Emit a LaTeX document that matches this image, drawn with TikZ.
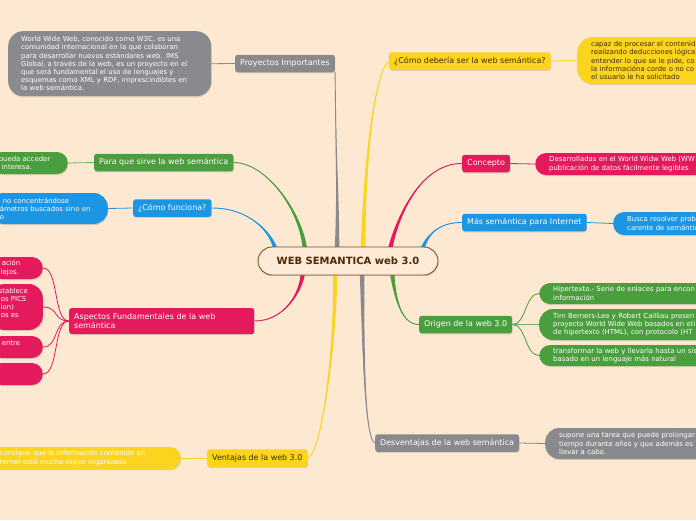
\documentclass[tikz,border=0pt]{standalone}
\usepackage{fontspec}
\setmainfont{DejaVu Sans}
\usetikzlibrary{calc,shadows}
\pgfdeclarelayer{bg}
\pgfsetlayers{bg,main}
\definecolor{bgc}{RGB}{253,232,210}
\definecolor{gry}{RGB}{138,138,142}
\definecolor{yel}{RGB}{250,212,30}
\definecolor{grn}{RGB}{75,158,62}
\definecolor{pnk}{RGB}{228,26,92}
\definecolor{blu}{RGB}{28,150,226}
\definecolor{ctrfill}{RGB}{253,235,215}
\definecolor{ctrdraw}{RGB}{125,80,40}
\definecolor{ctrtext}{RGB}{80,40,5}
\definecolor{yeltext}{RGB}{60,45,10}
\newcommand\brlink[5]{%
  \fill[#1] (#2) .. controls (#3) and (#4) .. ($(#5)+(-2.3,0)$) -- ($(#5)+(2.3,0)$) .. controls ($(#4)+(2.3,0)$) and (#3) .. (#2) -- cycle;
  \draw[#1,line width=0.9pt] (#2) .. controls (#3) and (#4) .. (#5);}
\tikzset{
  shad/.style={drop shadow={shadow xshift=0.6pt,shadow yshift=-1.2pt,opacity=0.25}},
  lbl/.style={shad,rounded corners=2.5pt,inner xsep=5pt,inner ysep=0pt,minimum height=17.5pt,
    font=\fontsize{7.95}{9.6}\selectfont,text=white},
  bub/.style={shad,rounded corners=11pt,font=\fontsize{6.9}{8.2}\selectfont,text=white,align=left,inner ysep=3pt},
  sub/.style={line width=0.8pt},
}
\begin{document}
\begin{tikzpicture}[x=1pt,y=-1pt]
\useasboundingbox (0,0) rectangle (696,520);
\clip (0,0) rectangle (696,520);
% central
\node[shad,draw=ctrdraw,line width=0.9pt,fill=ctrfill,rounded corners=14pt,minimum width=180pt,minimum height=28pt,
  font=\fontsize{10}{12}\selectfont\bfseries,text=ctrtext] (c) at (348,261) {WEB SEMANTICA web 3.0};
% branch labels
\node[lbl,fill=gry,anchor=west] (pi) at (235,63.5) {Proyectos Importantes};
\node[lbl,fill=yel,text=yeltext,anchor=west] (cds) at (389,61) {¿Cómo debería ser la web semántica?};
\node[lbl,fill=grn,anchor=west] (ps) at (94,162.5) {Para que sirve la web semántica};
\node[lbl,fill=blu,anchor=west] (cf) at (133,208) {¿Cómo funciona?};
\node[lbl,fill=pnk,anchor=west,align=left,text width=175pt,minimum height=26pt] (af) at (69,321) {Aspectos Fundamentales de la web\\semántica};
\node[lbl,fill=yel,text=yeltext,anchor=west] (vj) at (207,458) {Ventajas de la web 3.0};
\node[lbl,fill=pnk,anchor=west] (cp) at (462,163.5) {Concepto};
\node[lbl,fill=blu,anchor=west] (ms) at (462,222.5) {Más semántica para Internet};
\node[lbl,fill=grn,anchor=west] (og) at (419,324.5) {Origen de la web 3.0};
\node[lbl,fill=gry,anchor=west] (dv) at (375,443) {Desventajas de la web semántica};
% bubbles
\node[bub,fill=gry,anchor=north west,text width=177pt,inner xsep=13pt,minimum height=65pt,rounded corners=15pt] (b1) at (8,31)
 {World Wide Web, conocido como W3C, es una\\comunidad internacional en la que colaboran\\para desarrollar nuevos estándares web. IMS\\Global, a través de la web, es un proyecto en el\\que será fundamental el uso de lenguajes y\\esquemas como XML y RDF, imprescindibles en\\la web semántica.};
\node[bub,fill=yel,text=yeltext,anchor=west,text width=220pt,inner xsep=14pt,minimum height=47pt,rounded corners=16pt] (b2) at (577,60.5)
 {capaz de procesar el contenid\\realizando deducciones lógica\\entender lo que se le pide, co\\la informacióna corde o no co\\el usuario le ha solicitado};
\node[bub,fill=grn,anchor=east,text width=61pt,inner xsep=8pt,minimum height=22pt] (b3) at (68,163)
 {pueda acceder\\\hspace*{3pt}interesa.};
\node[bub,fill=blu,anchor=east,text width=98pt,inner xsep=10pt,minimum height=31pt,rounded corners=14pt] (b4) at (108,208.5)
 {\hspace*{3pt}no concentrándose\\ámetros buscados sino en\\o};
\node[bub,fill=pnk,anchor=east,text width=36pt,inner xsep=8pt,minimum height=22pt] (b5) at (43,268)
 {\hspace*{3pt}ación\\\hspace*{2pt}lejos.};
\node[bub,fill=pnk,anchor=east,text width=36pt,inner xsep=8pt,minimum height=46pt,rounded corners=14pt] (b6) at (43,307)
 {stablece\\\hspace*{2pt}os PICS\\\hspace*{2pt}ion)\\\hspace*{2pt}os es\\\mbox{}};
\node[bub,fill=pnk,anchor=east,text width=36pt,inner xsep=8pt,minimum height=22pt] (b7) at (43,347)
 {\hspace*{3pt}entre\\\mbox{}};
\node[bub,fill=pnk,anchor=east,text width=36pt,inner xsep=8pt,minimum height=22pt] (b8) at (43,374) {\mbox{}};
\node[bub,fill=yel,anchor=east,text width=170pt,inner xsep=11pt,minimum height=22pt] (b9) at (181,458)
 {consigue que la información contenida en\\ternet esté mucho mejor organizada};
\node[bub,fill=pnk,anchor=west,text width=200pt,inner xsep=14pt,minimum height=22pt] (b10) at (535,164)
 {Desarrolladas en el World Widw Web (WW\\publicación de datos fácilmente legibles};
\node[bub,fill=blu,anchor=west,text width=200pt,inner xsep=14pt,minimum height=23pt] (b11) at (613,223.5)
 {Busca resolver prob\\carente de semántic};
\node[bub,fill=grn,anchor=west,text width=200pt,inner xsep=14pt,minimum height=21pt] (b12) at (539,293.5)
 {Hipertexto.- Serie de enlaces para encon\\información};
\node[bub,fill=grn,anchor=west,text width=200pt,inner xsep=14pt,minimum height=31pt,rounded corners=14pt] (b13) at (539,324.5)
 {Tim Berners-Lee y Robert Cailliau presen\\proyecto World Wide Web basados en eti\\de hipertexto (HTML), con protocolo (HT};
\node[bub,fill=grn,anchor=west,text width=200pt,inner xsep=14pt,minimum height=21pt] (b14) at (539,355.5)
 {transformar la web y llevarla hasta un sis\\basado en un lenguaje más natural};
\node[bub,fill=gry,anchor=west,text width=200pt,inner xsep=14pt,minimum height=31pt,rounded corners=14pt] (b15) at (545,443.5)
 {supone una tarea que puede prolongar\\tiempo durante años y que además es\\llevar a cabo.};
% connectors
\begin{pgfonlayer}{bg}
\fill[bgc] (0,0) rectangle (696,520);
\coordinate (e1) at ($(c.north)+(-11,3)$);
\coordinate (e2) at ($(c.north)+(15,3)$);
\coordinate (e3) at ($(c.north)+(-43,3)$);
\coordinate (e4) at ($(c.north)+(-72,4)$);
\coordinate (e5) at ($(c.north)+(42,3)$);
\coordinate (e6) at ($(c.north)+(74,4)$);
\coordinate (e7) at ($(c.south)+(-45,-3)$);
\coordinate (e8) at ($(c.south)+(-13,-3)$);
\coordinate (e9) at ($(c.south)+(14,-3)$);
\coordinate (e10) at ($(c.south)+(44,-3)$);
\brlink{gry}{pi.south east}{336,150}{337,200}{e1}
\brlink{yel}{cds.west}{374,72}{363,170}{e2}
\brlink{grn}{ps.east}{268,163}{300,212}{e3}
\brlink{blu}{cf.east}{250,208}{270,232}{e4}
\brlink{pnk}{cp.west}{420,163}{395,220}{e5}
\brlink{blu}{ms.west}{440,222}{425,235}{e6}
\brlink{pnk}{af.east}{285,321}{300,292}{e7}
\brlink{yel}{vj.east}{324,452}{335,330}{e8}
\brlink{gry}{dv.west}{364,440}{362,330}{e9}
\brlink{grn}{og.west}{400,325}{393,292}{e10}
\draw[sub,gry] (b1.east) -- (pi.west);
\draw[sub,yel] (cds.east) -- (b2.west);
\draw[sub,grn!80] (b3.east) -- (ps.west);
\draw[sub,blu] (b4.east) -- (cf.west);
\draw[sub,pnk] (af.west) .. controls +(-16,0) and +(16,0) .. (b5.east);
\draw[sub,pnk] (af.west) .. controls +(-16,0) and +(16,0) .. (b6.east);
\draw[sub,pnk] (af.west) .. controls +(-16,0) and +(16,0) .. (b7.east);
\draw[sub,pnk] (af.west) .. controls +(-16,0) and +(16,0) .. (b8.east);
\draw[sub,yel] (vj.west) -- (b9.east);
\draw[sub,pnk] (cp.east) -- (b10.west);
\draw[sub,blu] (ms.east) -- (b11.west);
\draw[sub,grn] (og.east) .. controls +(14,0) and +(-14,0) .. (b12.west);
\draw[sub,grn!80] (og.east) -- (b13.west);
\draw[sub,grn] (og.east) .. controls +(14,0) and +(-14,0) .. (b14.west);
\draw[sub,gry] (dv.east) -- (b15.west);
\end{pgfonlayer}
\end{tikzpicture}
\end{document}
